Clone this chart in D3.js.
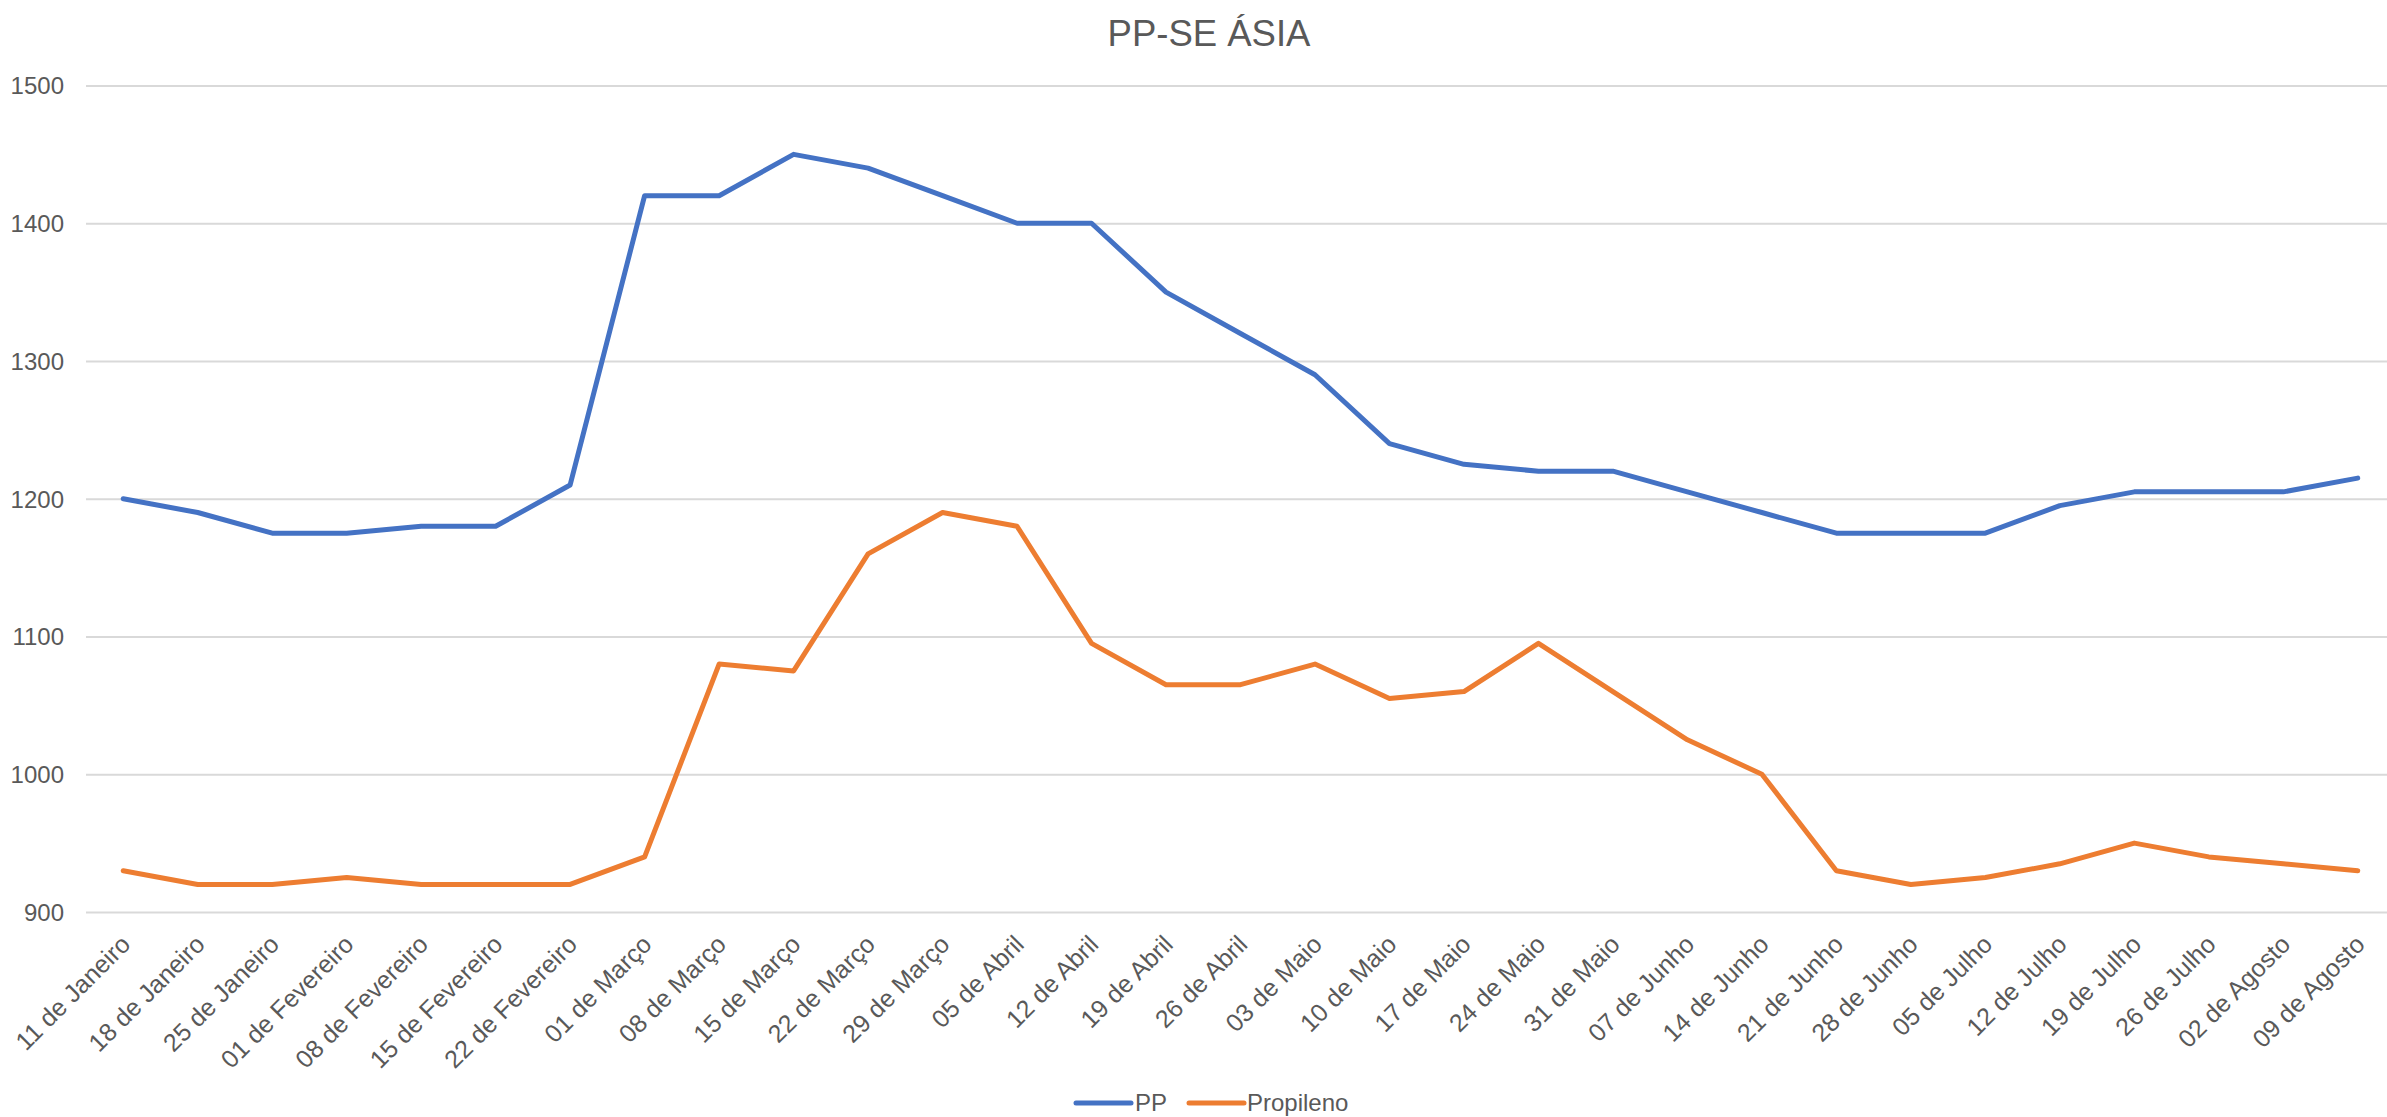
<!DOCTYPE html>
<html>
<head>
<meta charset="utf-8">
<script src="https://cdn.jsdelivr.net/npm/d3@7"></script>
<style>
  html, body { margin: 0; padding: 0; background: #fff; }
  svg { display: block; }
  text { font-family: "Liberation Sans", Arial, sans-serif; fill: #595959; }
</style>
</head>
<body>
<svg id="chart" width="2387" height="1117"></svg>
<script>
const categories = [
  "11 de Janeiro", "18 de Janeiro", "25 de Janeiro", "01 de Fevereiro", "08 de Fevereiro",
  "15 de Fevereiro", "22 de Fevereiro", "01 de Março", "08 de Março", "15 de Março",
  "22 de Março", "29 de Março", "05 de Abril", "12 de Abril", "19 de Abril", "26 de Abril",
  "03 de Maio", "10 de Maio", "17 de Maio", "24 de Maio", "31 de Maio", "07 de Junho",
  "14 de Junho", "21 de Junho", "28 de Junho", "05 de Julho", "12 de Julho", "19 de Julho",
  "26 de Julho", "02 de Agosto", "09 de Agosto"
];
const ppValues = [
  1200, 1190, 1175, 1175, 1180, 1180, 1210, 1420, 1420, 1450, 1440, 1420, 1400, 1400,
  1350, 1320, 1290, 1240, 1225, 1220, 1220, 1205, 1190, 1175, 1175, 1175, 1195, 1205,
  1205, 1205, 1215
];
const propilenoValues = [
  930, 920, 920, 925, 920, 920, 920, 940, 1080, 1075, 1160, 1190, 1180, 1095,
  1065, 1065, 1080, 1055, 1060, 1095, 1060, 1025, 1000, 930, 920, 925, 935, 950,
  940, 935, 930
];
const yTicks = [900, 1000, 1100, 1200, 1300, 1400, 1500];
const title = "PP-SE ÁSIA";
const seriesNames = ["PP", "Propileno"];
const seriesColors = ["#4472C4", "#ED7D31"];

const svg = d3.select("#chart");
const plotLeft = 86, plotRight = 2395, plotTop = 85.5, plotBottom = 912;

const x = d3.scalePoint().domain(categories).range([plotLeft, plotRight]).padding(0.5);
const y = d3.scaleLinear().domain([900, 1500]).range([plotBottom, plotTop]);

// Title
svg.append("text")
  .attr("x", 1209).attr("y", 46)
  .attr("text-anchor", "middle")
  .style("font-size", "36.5px")
  .text(title);

// Gridlines + y labels
const yAxis = d3.axisLeft(y).tickValues(yTicks).tickSize(-(plotRight - plotLeft)).tickFormat(d3.format("d"));
const gy = svg.append("g").attr("transform", `translate(${plotLeft},0)`).call(yAxis);
gy.select(".domain").remove();
gy.selectAll(".tick line").attr("stroke", "#D9D9D9").attr("stroke-width", 2);
gy.selectAll(".tick text")
  .attr("x", -22).attr("dy", "0.35em")
  .style("font-size", "24px").style("fill", "#595959");

// X axis labels
const xAxis = d3.axisBottom(x).tickSize(0);
const gx = svg.append("g").attr("transform", `translate(0,${plotBottom})`).call(xAxis);
gx.select(".domain").remove();
gx.selectAll(".tick text")
  .attr("y", 0).attr("dy", null)
  .attr("text-anchor", "end")
  .attr("transform", "translate(8,34) rotate(-45)")
  .style("font-size", "25px").style("fill", "#595959");

// Lines
const allSeries = [ppValues, propilenoValues];
const line = d3.line().x((d, i) => x(categories[i])).y(d => y(d));
allSeries.forEach((vals, k) => {
  svg.append("path")
    .datum(vals)
    .attr("fill", "none")
    .attr("stroke", seriesColors[k])
    .attr("stroke-width", 5)
    .attr("stroke-linejoin", "round")
    .attr("stroke-linecap", "round")
    .attr("d", line);
});

// Legend
const legendItems = [{x0: 1076, tx: 1135}, {x0: 1189, tx: 1247}];
seriesNames.forEach((name, k) => {
  const g = svg.append("g");
  g.append("line")
    .attr("x1", legendItems[k].x0).attr("x2", legendItems[k].x0 + 55)
    .attr("y1", 1103).attr("y2", 1103)
    .attr("stroke", seriesColors[k]).attr("stroke-width", 5)
    .attr("stroke-linecap", "round");
  g.append("text")
    .attr("x", legendItems[k].tx).attr("y", 1103).attr("dy", "0.35em")
    .style("font-size", "24px")
    .text(name);
});
</script>
</body>
</html>
